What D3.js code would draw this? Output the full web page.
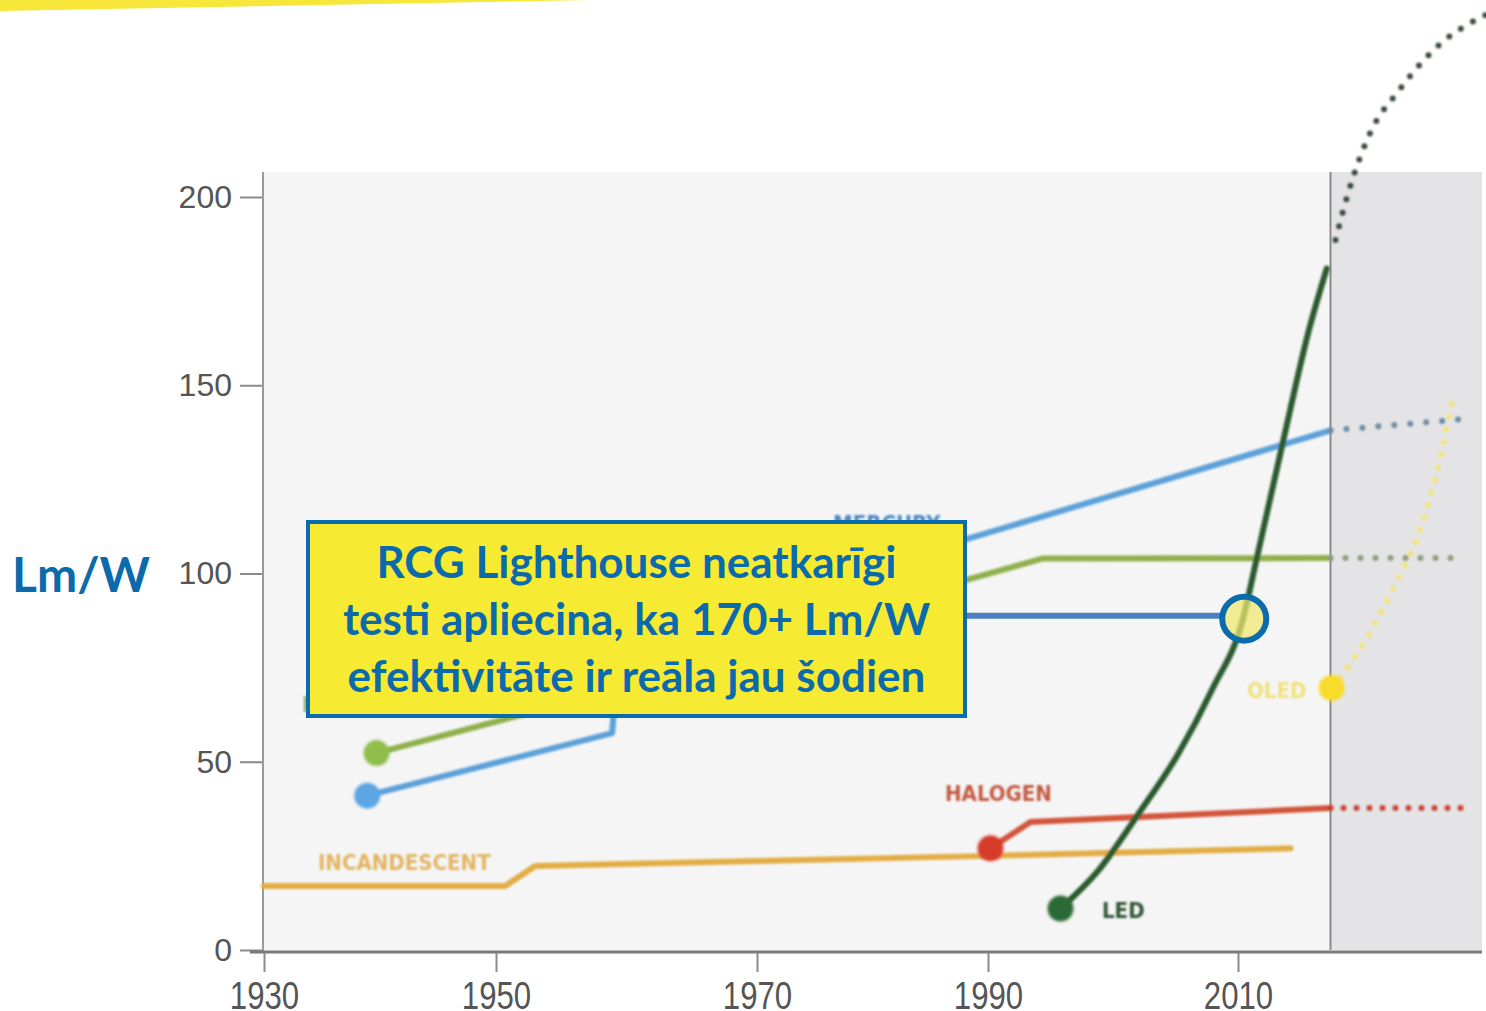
<!DOCTYPE html>
<html>
<head>
<meta charset="utf-8">
<script src="https://cdn.jsdelivr.net/npm/d3@7"></script>
<style>
  body { margin: 0; background: #fff; }
  svg { display: block; }
</style>
</head>
<body>
<div id="chart"></div>
<script>
// axis ticks
const yearTicks = [1930, 1950, 1970, 1990, 2010];
const valueTicks = [0, 50, 100, 150, 200];

// series, [year, lm/W]
const incandescent = [[1930, 17], [1950.7, 17], [1953, 22.3], [1990, 25], [2014.2, 27]];
const halogen = [[1990.2, 27], [1993.4, 34], [2017.4, 37.7]];
const halogenFuture = [[2017.4, 37.7], [2028, 37.7]];
const mercury = [[1938.9, 41], [1958.9, 57.6], [1959.4, 80], [1988, 109], [2017.4, 138]];
const mercuryFuture = [[2017.4, 138], [2028, 141]];
const metalHalide = [[1939.7, 52.3], [1958, 68], [1988, 98.2], [1994.4, 104], [2017.4, 104.1]];
const metalHalideFuture = [[2017.4, 104.1], [2027.8, 104.1]];
const led = [[1995.8, 11], [1998.8, 21], [2002, 36], [2005.2, 52], [2007.9, 69], [2010.4, 88],
             [2011.5, 104], [2013.6, 135], [2015.7, 165], [2017.1, 181]];
const ledFuture = [[2017.8, 188.6], [2018.9, 202], [2020.5, 216.5], [2022.9, 228.4], [2026.1, 240.4], [2029.9, 248.5]];
const oled = [[2017.5, 69.6]];
const oledFuture = [[2017.5, 69.6], [2020.2, 82.3], [2022.4, 96], [2024.4, 110], [2025.9, 127], [2027.2, 147]];
const callout = [2010.5, 88];

const width = 1486, height = 1011;

const svg = d3.select("#chart")
    .append("svg")
    .attr("width", width)
    .attr("height", height);

// the scanned axis is not quite even, so the year scale is piecewise
const x = d3.scaleLinear()
    .domain([1930, 1950, 1970, 1990, 2010, 2030])
    .range([264, 496, 757, 988, 1238, 1488]);
const y = d3.scaleLinear().domain([0, 200]).range([950, 197]);

const line = d3.line().x(d => x(d[0])).y(d => y(d[1]));
const smooth = d3.line().x(d => x(d[0])).y(d => y(d[1])).curve(d3.curveMonotoneX);

const defs = svg.append("defs");
defs.append("filter").attr("id", "soft")
    .append("feGaussianBlur").attr("stdDeviation", 0.9);
defs.append("filter").attr("id", "softer")
    .append("feGaussianBlur").attr("stdDeviation", 1.4);

// yellow swoosh top left
svg.append("path")
    .attr("d", "M0,0 L590,0 L0,11 Z")
    .attr("fill", "#f6e73a");

// plot area
const todayX = x(2017.4);
svg.append("rect")
    .attr("x", 263).attr("y", 172)
    .attr("width", todayX - 263).attr("height", 950 - 172)
    .attr("fill", "#f5f5f5");
svg.append("rect")
    .attr("x", todayX).attr("y", 172)
    .attr("width", 1482 - todayX).attr("height", 950 - 172)
    .attr("fill", "#e4e4e6");
svg.append("line")
    .attr("x1", todayX).attr("x2", todayX)
    .attr("y1", 172).attr("y2", 950)
    .attr("stroke", "#8a8a8a").attr("stroke-width", 2);

// axes
const yAxis = svg.append("g")
    .attr("transform", "translate(263,0)")
    .call(d3.axisLeft(y).tickValues(valueTicks).tickSize(23).tickPadding(8));
yAxis.select(".domain").remove();
yAxis.selectAll(".tick line").attr("stroke", "#8a8a8a").attr("stroke-width", 2);
yAxis.selectAll(".tick text")
    .attr("fill", "#555")
    .style("font-family", "'Liberation Sans', Arial, sans-serif")
    .style("font-size", "32px");

const xAxis = svg.append("g")
    .attr("transform", "translate(0,952)")
    .call(d3.axisBottom(x).tickValues(yearTicks).tickFormat(d3.format("d")).tickSize(20).tickPadding(9));
xAxis.select(".domain").remove();
xAxis.selectAll(".tick line").attr("stroke", "#8a8a8a").attr("stroke-width", 2);
xAxis.selectAll(".tick text")
    .attr("fill", "#555")
    .attr("transform", "scale(0.8,1)")
    .style("font-family", "'Liberation Sans', Arial, sans-serif")
    .style("font-size", "39px");

svg.append("line")
    .attr("x1", 263).attr("x2", 263).attr("y1", 172).attr("y2", 952)
    .attr("stroke", "#9a9a9a").attr("stroke-width", 2);
svg.append("line")
    .attr("x1", 250).attr("x2", 1482).attr("y1", 952).attr("y2", 952)
    .attr("stroke", "#7a7a7a").attr("stroke-width", 3);

// series lines
const lines = svg.append("g").attr("filter", "url(#soft)").attr("fill", "none")
    .attr("stroke-linejoin", "round").attr("stroke-linecap", "round");

const solid = [
    { data: incandescent, color: "#e3ad45", curve: line },
    { data: halogen, color: "#d3553a", curve: line },
    { data: mercury, color: "#5ba1d9", curve: line },
    { data: metalHalide, color: "#8fb04c", curve: line },
    { data: led, color: "#2b5a2f", curve: smooth }
];
solid.forEach(s => {
    lines.append("path").attr("d", s.curve(s.data))
        .attr("stroke", s.color).attr("stroke-width", 6);
});

const dotted = [
    { data: halogenFuture, color: "#c94336", gap: 13 },
    { data: mercuryFuture, color: "#6f8aa6", gap: 16 },
    { data: metalHalideFuture, color: "#8e9c7c", gap: 15 },
    { data: ledFuture, color: "#3b4a3d", gap: 14 },
    { data: oledFuture, color: "#f2e47c", gap: 13 }
];
dotted.forEach(s => {
    lines.append("path").attr("d", smooth(s.data))
        .attr("stroke", s.color).attr("stroke-width", 6)
        .attr("stroke-dasharray", `0 ${s.gap}`);
});

// start markers
const markers = [
    { d: mercury[0], color: "#5ba6e3" },
    { d: metalHalide[0], color: "#8fbe4c" },
    { d: halogen[0], color: "#d63b2b" },
    { d: led[0], color: "#2c6a34" },
    { d: oled[0], color: "#f8dc2c" }
];
svg.append("g").attr("filter", "url(#softer)")
    .selectAll("circle").data(markers).join("circle")
    .attr("cx", m => x(m.d[0])).attr("cy", m => y(m.d[1]))
    .attr("r", 13).attr("fill", m => m.color);

// series labels
const labels = [
    { text: "INCANDESCENT", x: 318, y: 870, color: "#e2b563" },
    { text: "HALOGEN", x: 945, y: 801, color: "#c45a42" },
    { text: "LED", x: 1102, y: 918, color: "#2f5534" },
    { text: "OLED", x: 1247, y: 698, color: "#f0e27a" },
    { text: "MERCURY", x: 833, y: 531, color: "#4d88c2" },
    { text: "METAL HALIDE", x: 302, y: 712, color: "#8fb04c" }
];
svg.append("g").attr("filter", "url(#soft)")
    .selectAll("text").data(labels).join("text")
    .attr("x", d => d.x).attr("y", d => d.y)
    .attr("fill", d => d.color)
    .style("font-family", "'Liberation Sans Narrow', 'DejaVu Sans Condensed', sans-serif")
    .style("font-weight", "bold")
    .style("font-size", "22px")
    .text(d => d.text);

// callout
const boxX = 308, boxY = 522, boxW = 657, boxH = 194;
const cx = x(callout[0]), cy = y(callout[1]);
svg.append("line")
    .attr("x1", boxX + boxW).attr("x2", cx - 22)
    .attr("y1", cy - 3).attr("y2", cy - 3)
    .attr("stroke", "#4a7fc0").attr("stroke-width", 6);
svg.append("rect")
    .attr("x", boxX).attr("y", boxY).attr("width", boxW).attr("height", boxH)
    .attr("fill", "#f7ea33").attr("stroke", "#0b6cad").attr("stroke-width", 4);
svg.append("circle")
    .attr("cx", cx).attr("cy", cy).attr("r", 22)
    .attr("fill", "rgba(240,232,110,0.72)")
    .attr("stroke", "#0b6cad").attr("stroke-width", 6);

const calloutLines = [
    "RCG Lighthouse neatkarīgi",
    "testi apliecina, ka 170+ Lm/W",
    "efektivitāte ir reāla jau šodien"
];
svg.append("g").selectAll("text").data(calloutLines).join("text")
    .attr("x", boxX + boxW / 2)
    .attr("y", (d, i) => 578 + i * 57)
    .attr("text-anchor", "middle")
    .attr("fill", "#0b6aab")
    .style("font-family", "Lato, 'Open Sans', sans-serif")
    .style("font-weight", "bold")
    .style("font-size", "44px")
    .text(d => d);

svg.append("text")
    .attr("x", 12).attr("y", 592)
    .attr("fill", "#0b6aab")
    .style("font-family", "Lato, 'Open Sans', sans-serif")
    .style("font-weight", "bold")
    .style("font-size", "48px")
    .text("Lm/W");
</script>
</body>
</html>
